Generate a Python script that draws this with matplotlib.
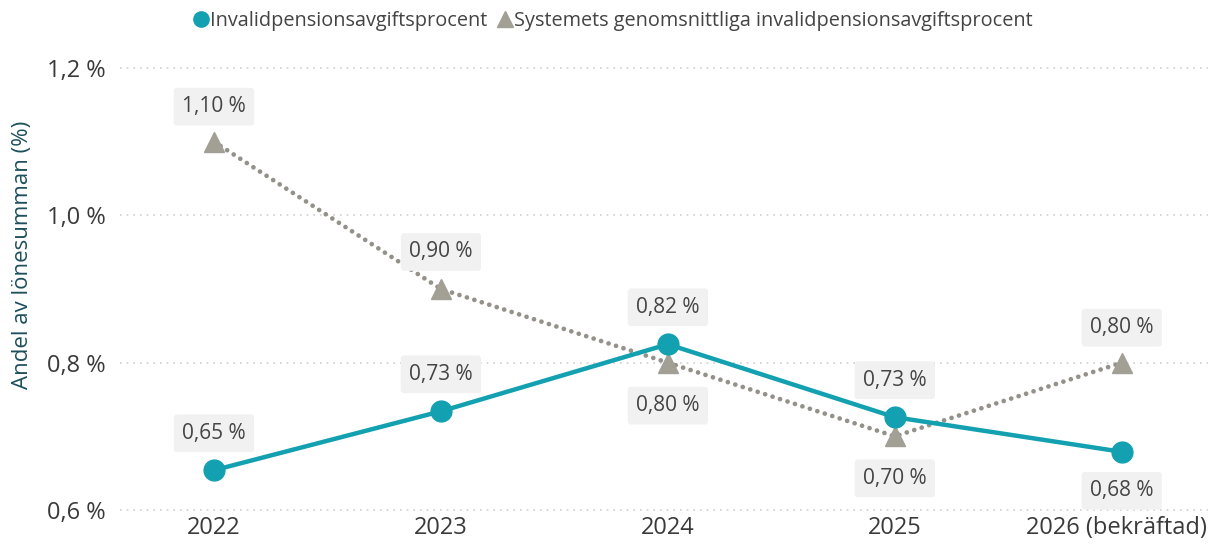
import matplotlib
matplotlib.use("Agg")
import matplotlib.pyplot as plt
from matplotlib.lines import Line2D
from matplotlib.transforms import ScaledTranslation

categories = ["2022", "2023", "2024", "2025", "2026 (bekräftad)"]
invalid_pct = [0.654, 0.734, 0.825, 0.726, 0.679]
system_pct = [1.10, 0.90, 0.80, 0.70, 0.80]
invalid_labels = ["0,65 %", "0,73 %", "0,82 %", "0,73 %", "0,68 %"]
system_labels = ["1,10 %", "0,90 %", "0,80 %", "0,70 %", "0,80 %"]
yticks = [0.6, 0.8, 1.0, 1.2]
ytick_labels = ["0,6 %", "0,8 %", "1,0 %", "1,2 %"]
series_names = ["Invalidpensionsavgiftsprocent",
                "Systemets genomsnittliga invalidpensionsavgiftsprocent"]

TEAL = "#13a0b0"
GRAY = "#a29f94"
DOT = "#94918a"
TXT = "#444444"

plt.rcParams['font.family'] = ['Open Sans', 'DejaVu Sans']

fig = plt.figure(figsize=(12.08, 5.45), dpi=100)
ax = fig.add_axes([120/1208, 35/545, 1 - 120/1208, (510-68)/545])
x = list(range(len(categories)))

ax.plot(x, invalid_pct, color=TEAL, lw=3.2, marker='o', ms=15,
        markerfacecolor=TEAL, markeredgecolor=TEAL, zorder=4, solid_capstyle='round')
ax.plot(x, system_pct, color=DOT, lw=3.4, ls=(0, (0.01, 1.65)), dash_capstyle='round',
        zorder=3)
ax.plot(x, system_pct, ls='none', marker='^', ms=14, markerfacecolor=GRAY,
        markeredgecolor=GRAY, zorder=3.5)

box = dict(boxstyle="round,pad=0.4,rounding_size=0.15", fc="#f1f1f2", ec="none")
inv_off = [37, 37, 37, 37, -39]
sys_off = [35, 37, -43, -42, 35]
for i in x:
    ax.annotate(invalid_labels[i], (i, invalid_pct[i]), xytext=(0, inv_off[i]),
                textcoords='offset pixels', ha='center', va='center',
                fontsize=15, color=TXT, bbox=box, zorder=6)
    ax.annotate(system_labels[i], (i, system_pct[i]), xytext=(0, sys_off[i]),
                textcoords='offset pixels', ha='center', va='center',
                fontsize=15, color=TXT, bbox=box, zorder=6)

ax.set_xlim(-0.414, 4.38)
ax.set_ylim(0.6, 1.2)
ax.set_yticks(yticks)
ax.set_yticklabels(ytick_labels)
ax.set_xticks(x)
ax.set_xticklabels(categories)
ax.tick_params(axis='both', length=0, labelsize=17, colors="#3a3a3a")
ax.tick_params(axis='y', pad=10)
ax.tick_params(axis='x', pad=4)
last = ax.get_xticklabels()[-1]
last.set_ha('right')
last.set_transform(last.get_transform() + ScaledTranslation(0.85, 0, fig.dpi_scale_trans))
for s in ax.spines.values():
    s.set_visible(False)
ax.grid(axis='y', color="#cfcfcf", ls=(0, (1, 3)), lw=1.2)
for gl in ax.get_ygridlines():
    gl.set_clip_on(False)
ax.set_axisbelow(True)
ax.set_ylabel("Andel av lönesumman (%)", fontsize=16, color="#1d4f5c")
ax.yaxis.set_label_coords(-(120 - 33) / (1208 - 120), (510 - 255) / 442)

handles = [Line2D([], [], ls='none', marker='o', ms=11, color=TEAL),
           Line2D([], [], ls='none', marker='^', ms=11, color=GRAY)]
fig.legend(handles, series_names, loc='center', bbox_to_anchor=(0.508, 0.962), ncol=2,
           frameon=False, handlelength=0.6, handletextpad=0.15, columnspacing=0.6,
           fontsize=14.3, labelcolor=TXT)

fig.savefig("out.png", dpi=100, facecolor="white")
